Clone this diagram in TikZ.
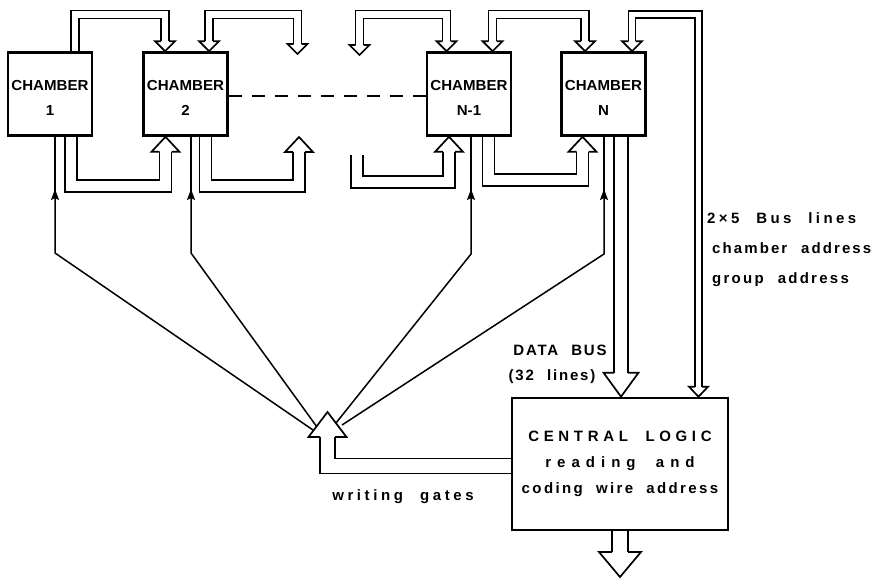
\documentclass[tikz,border=0pt]{standalone}
\usepackage{fontspec}
\setmainfont{Liberation Sans}
\newfontfamily\chfont[FakeStretch=1.04]{Liberation Sans}
\newfontfamily\lblfont[WordSpace=2.2]{Liberation Sans}
\newfontfamily\logicfont[WordSpace=2]{Liberation Sans}
\usetikzlibrary{arrows.meta}

% hollow bus head: tip, signed length (+ points down), shaft half width, head half width
\newcommand\bushead[4]{%
  \draw[head] ([xshift=-#3,yshift=#2]#1) -- ([xshift=-#4,yshift=#2]#1) -- (#1)
    -- ([xshift=#4,yshift=#2]#1) -- ([xshift=#3,yshift=#2]#1);}

\begin{document}
\begin{tikzpicture}[x=1pt,y=-1pt,
  chamber/.style={draw, line width=2.6, minimum width=84, minimum height=83,
                  inner sep=0pt, align=center,
                  font=\chfont\fontsize{14.5}{25}\selectfont\bfseries},
  logicbox/.style={draw, line width=2.6, minimum width=216, minimum height=132,
                   inner sep=0pt, align=center,
                   font=\logicfont\fontsize{15}{26}\selectfont\bfseries},
  bus/.style={draw, line width=1.7, double=white, double distance=#1, line join=miter},
  head/.style={draw, line width=1.7, line join=miter},
  wire/.style={draw, line width=1.5},
  wtip/.style={-{Stealth[length=11pt,width=8pt,inset=2pt]}},
  lbl/.style={inner sep=0pt,
              font=\lblfont\fontsize{15}{15}\selectfont\bfseries\addfontfeatures{LetterSpace=#1}},
  lbl/.default=14
]
\fill[white] (0,0) rectangle (875,579);
\useasboundingbox (0,0) rectangle (875,579);
%--- chambers and central logic ---------------------------------------------
\node[chamber] (c1)  at (50,94)    {\rule{0pt}{17pt}CHAMBER\\1};
\node[chamber] (c2)  at (185.5,94) {\rule{0pt}{17pt}CHAMBER\\2};
\node[chamber] (cn1) at (469,94)   {\rule{0pt}{17pt}CHAMBER\\N-1};
\node[chamber] (cn)  at (603.5,94) {\rule{0pt}{17pt}CHAMBER\\N};
\node[logicbox] (logic) at (620,464) {%
  \addfontfeatures{LetterSpace=31}CENTRAL LOGIC\\
  \addfontfeatures{LetterSpace=40}reading and\hspace{16pt}\\
  \addfontfeatures{LetterSpace=16}coding wire address};
%--- dashed link ------------------------------------------------------------
\draw[wire, dash pattern=on 13pt off 10pt] (c2.east |- 0,96) -- (cn1.west |- 0,96);
%--- top buses --------------------------------------------------------------
\coordinate (t12) at (165,0 |- c2.north);
\draw[bus=6.4] (75,0 |- c1.north) |- (165,14.5) -- ([yshift=10]t12);
\bushead{t12}{10}{4}{10}
\coordinate (t2a) at (209,0 |- c2.north);
\coordinate (t2b) at (297.5,54);
\draw[bus=6.4] ([yshift=10]t2a) |- (297.5,14.5) -- ([yshift=10]t2b);
\bushead{t2a}{10}{4}{10}
\bushead{t2b}{10}{4}{10}
\coordinate (t3a) at (359.5,55);
\coordinate (t3b) at (446.5,0 |- cn1.north);
\draw[bus=6.4] ([yshift=10]t3a) |- (446.5,14.5) -- ([yshift=10]t3b);
\bushead{t3a}{10}{4}{10}
\bushead{t3b}{10}{4}{10}
\coordinate (t4a) at (492.5,0 |- cn1.north);
\coordinate (t4b) at (585,0 |- cn.north);
\draw[bus=6.4] ([yshift=10]t4a) |- (585,14.5) -- ([yshift=10]t4b);
\bushead{t4a}{10}{4}{10}
\bushead{t4b}{10}{4}{10}
%--- address bus lines to central logic -------------------------------------
\coordinate (t5a) at (632,0 |- cn.north);
\coordinate (t5b) at (698.5,0 |- logic.north);
\draw[bus=5.4] ([yshift=10]t5a) |- (698.5,14.5) -- ([yshift=10]t5b);
\bushead{t5a}{10}{3.5}{10}
\bushead{t5b}{10}{3.5}{9.5}
%--- bottom buses -----------------------------------------------------------
\coordinate (b12) at (165.5,0 |- c2.south);
\draw[bus=10.4] (71,0 |- c1.south) |- (165.5,186) -- ([yshift=-15]b12);
\bushead{b12}{-15}{6}{14}
\coordinate (b2) at (299,137);
\draw[bus=10.4] (205.5,0 |- c2.south) |- (299,186) -- ([yshift=-15]b2);
\bushead{b2}{-15}{6}{14}
\coordinate (b3a) at (357,155);
\coordinate (b3b) at (449,0 |- cn1.south);
\draw[bus=10.4] (b3a) |- (449,182) -- ([yshift=-15]b3b);
\bushead{b3b}{-15}{6}{14}
\coordinate (b4) at (582.5,0 |- cn.south);
\draw[bus=10.4] (488.5,0 |- cn1.south) |- (582.5,180) -- ([yshift=-15]b4);
\bushead{b4}{-15}{6}{14}
%--- data bus, output, writing gates ----------------------------------------
\coordinate (dbt) at (621,0 |- logic.north);
\draw[bus=12.4] (621,0 |- cn.south) -- ([yshift=24]dbt);
\bushead{dbt}{24}{7}{17.5}
\coordinate (out) at (620,577);
\draw[bus=14.4] (620,0 |- logic.south) -- ([yshift=25]out);
\bushead{out}{25}{8}{21}
\coordinate (gt) at (327.5,412);
\draw[bus=13.4] (logic.west |- 0,466) -| ([yshift=-25]gt);
\bushead{gt}{-25}{7.5}{19}
%--- writing wires ----------------------------------------------------------
\coordinate (g1) at (313,430);
\coordinate (g2) at (317,427);
\coordinate (g3) at (336,423);
\coordinate (g4) at (342,425);
\draw[wire, wtip] (g1) -- (55,253) -- (55,189);
\draw[wire] (55,192) -- (55,0 |- c1.south);
\draw[wire, wtip] (g2) -- (191,253) -- (191,189);
\draw[wire] (191,192) -- (191,0 |- c2.south);
\draw[wire, wtip] (g3) -- (471,254) -- (471,189);
\draw[wire] (471,192) -- (471,0 |- cn1.south);
\draw[wire, wtip] (g4) -- (604,254) -- (604,189);
\draw[wire] (604,192) -- (604,0 |- cn.south);
%--- labels -----------------------------------------------------------------
\node[lbl=23, anchor=west] (bl1) at (707,218) {2×5 Bus lines};
\node[lbl=14, anchor=west] (bl2) at (712,248) {chamber address};
\node[lbl=15, anchor=west] (bl3) at (712,280) {group address};
\node[lbl=12] (db1) at (560,350) {DATA BUS};
\node[lbl=12] (db2) at (552,377) {(32 lines)};
\node[lbl=24] (wg)  at (403,497) {writing gates};
\end{tikzpicture}
\end{document}
